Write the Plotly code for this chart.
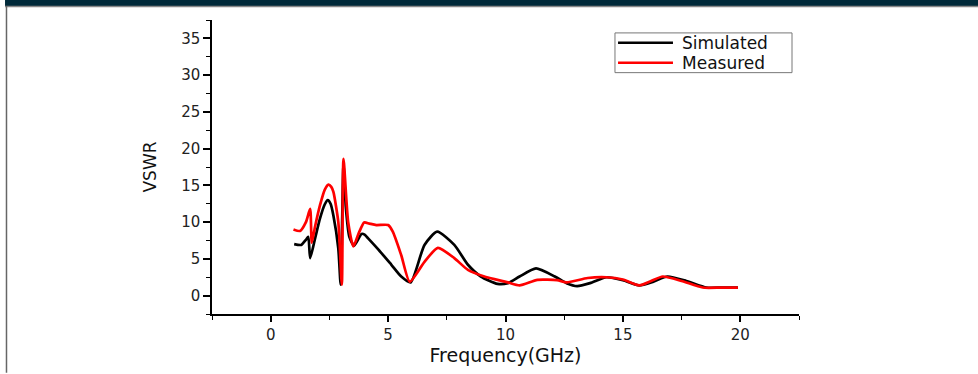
import plotly.graph_objects as go

# Simulated (black)
sim_f = [1.0, 1.3, 1.5, 1.6, 1.68, 1.89, 2.1, 2.3, 2.43, 2.55, 2.67, 2.88, 2.98, 3.1, 3.2, 3.35, 3.55, 3.87, 4.0, 4.15, 4.58, 5.14, 5.56, 5.96, 6.55, 7.09, 7.82, 8.4, 8.95, 9.66, 10.1, 10.6, 11.3, 12.1, 12.6, 13.05, 13.6, 14.3, 15.0, 15.7, 16.3, 16.9, 17.7, 18.56, 19.2, 19.9]
sim_v = [7.0, 6.9, 7.6, 8.0, 5.1, 7.8, 10.5, 12.4, 13.0, 12.5, 10.9, 6.4, 1.5, 17.8, 12.0, 8.0, 6.8, 8.4, 8.3, 7.8, 6.3, 4.2, 2.6, 1.8, 6.9, 8.7, 6.9, 4.2, 2.6, 1.6, 1.7, 2.6, 3.7, 2.6, 1.7, 1.3, 1.7, 2.5, 2.1, 1.4, 1.9, 2.6, 2.0, 1.1, 1.1, 1.1]

# Measured (red)
mea_f = [0.97, 1.25, 1.5, 1.68, 1.75, 1.89, 2.1, 2.3, 2.46, 2.58, 2.67, 2.88, 3.03, 3.1, 3.3, 3.52, 3.75, 3.98, 4.2, 4.5, 5.0, 5.2, 5.56, 5.92, 6.55, 7.12, 7.82, 8.4, 9.1, 9.66, 10.1, 10.6, 11.36, 12.2, 12.6, 13.5, 14.3, 15.0, 15.7, 16.2, 16.7, 17.5, 18.4, 19.2, 19.9]
mea_v = [9.0, 8.8, 10.0, 11.8, 7.2, 9.4, 12.3, 14.4, 15.1, 14.8, 14.1, 10.0, 1.5, 18.6, 10.0, 6.7, 8.5, 9.95, 9.8, 9.6, 9.6, 8.7, 5.5, 1.9, 4.6, 6.5, 5.1, 3.5, 2.6, 2.15, 1.8, 1.4, 2.15, 2.1, 1.8, 2.4, 2.5, 2.2, 1.4, 2.0, 2.6, 2.0, 1.1, 1.1, 1.1]

x_ticks = [0, 5, 10, 15, 20]
y_ticks = [0, 5, 10, 15, 20, 25, 30, 35]
series_names = ["Simulated", "Measured"]
series_colors = ["black", "#ff0000"]

FONT = "DejaVu Sans, Verdana, sans-serif"

fig = go.Figure()
fig.add_trace(go.Scatter(x=sim_f, y=sim_v, mode="lines", name=series_names[0], showlegend=False,
                         line=dict(color=series_colors[0], width=2.7, shape="spline", smoothing=0.6)))
fig.add_trace(go.Scatter(x=mea_f, y=mea_v, mode="lines", name=series_names[1], showlegend=False,
                         line=dict(color=series_colors[1], width=2.7, shape="spline", smoothing=0.6)))

axis_font = dict(family=FONT, size=15, color="#222")

# legend drawn in paper coordinates (box, sample lines, labels)
leg_x0, leg_x1, leg_y0, leg_y1 = 0.6865, 0.9881, 0.8209, 0.9561
leg_rows = [0.9223, 0.8547]
shapes = [
    dict(type="rect", xref="paper", yref="paper", x0=-0.3526, x1=1.31, y0=1.0473, y1=1.08,
         fillcolor="#002a3a", line=dict(width=0), layer="above"),
    dict(type="line", xref="paper", yref="paper", x0=-0.3526, x1=1.31, y0=1.0456, y1=1.0456,
         line=dict(color="#888", width=1.5)),
    dict(type="line", xref="paper", yref="paper", x0=-0.3501, x1=-0.3501, y0=1.0473, y1=-0.2,
         line=dict(color="#666", width=1.5)),
    dict(type="rect", xref="paper", yref="paper", x0=leg_x0, x1=leg_x1, y0=leg_y0, y1=leg_y1,
         fillcolor="white", line=dict(color="#777", width=1)),
]
annotations = []
for name, col, yy in zip(series_names, series_colors, leg_rows):
    shapes.append(dict(type="line", xref="paper", yref="paper", x0=0.6917, x1=0.7853, y0=yy, y1=yy,
                       line=dict(color=col, width=2.5)))
    annotations.append(dict(text=name, xref="paper", yref="paper", x=0.7973, y=yy,
                            xanchor="left", yanchor="middle", showarrow=False,
                            font=dict(family=FONT, size=17, color="#111")))

fig.update_layout(
    width=978, height=374,
    margin=dict(l=212, r=179, t=20, b=58),
    paper_bgcolor="white", plot_bgcolor="white",
    font=dict(family=FONT, color="#111"),
    showlegend=False,
    xaxis=dict(range=[-2.5, 22.5], tickvals=x_ticks, ticktext=[str(v) for v in x_ticks],
               showgrid=False, zeroline=False, showline=True, linecolor="black", linewidth=1.5,
               ticks="outside", ticklen=6, tickwidth=1.5, tickcolor="black",
               minor=dict(dtick=2.5, tick0=0, ticks="outside", ticklen=4, tickcolor="black", tickwidth=1.2, showgrid=False),
               tickfont=axis_font,
               title=dict(text="Frequency(GHz)", font=dict(family=FONT, size=19, color="#111"), standoff=5)),
    yaxis=dict(range=[-2.5, 37.5], tickvals=y_ticks, ticktext=[str(v) for v in y_ticks],
               showgrid=False, zeroline=False, showline=True, linecolor="black", linewidth=1.5,
               ticks="outside", ticklen=7, tickwidth=1.5, tickcolor="black",
               minor=dict(dtick=2.5, tick0=0, ticks="outside", ticklen=4, tickcolor="black", tickwidth=1.2, showgrid=False),
               tickfont=axis_font,
               title=dict(text="VSWR", font=dict(family=FONT, size=17, color="#111"), standoff=20)),
    shapes=shapes,
    annotations=annotations,
)

fig.write_html("out.html", config={"displayModeBar": False},
               post_script="document.body.style.margin='0';")
